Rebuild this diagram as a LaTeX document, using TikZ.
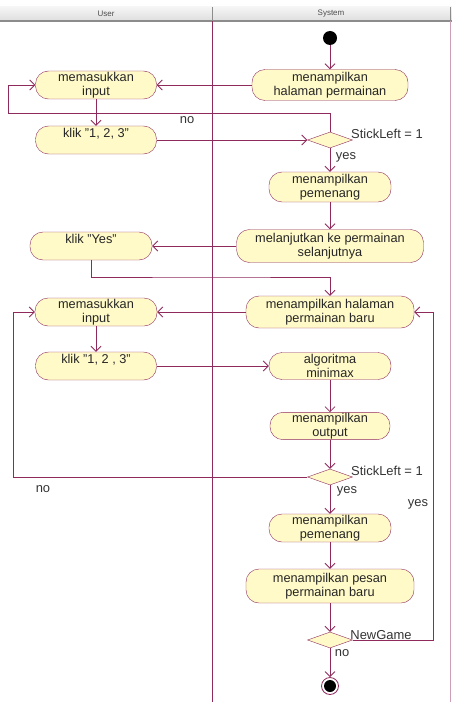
\documentclass[tikz,border=0pt]{standalone}
\usepackage{fontspec}
\setmainfont{Liberation Sans}
\usetikzlibrary{arrows.meta, positioning, shapes.geometric}
\definecolor{flowline}{RGB}{142,42,92}
\definecolor{actfill}{RGB}{255,250,200}

\begin{document}
\begin{tikzpicture}[x=1bp, y=-1bp,
    activity/.style={draw=flowline, fill=actfill, rounded corners=13bp, minimum height=28bp,
        align=center, inner sep=1bp, text=black!85, font=\fontsize{12.8}{13.5}\selectfont},
    decision/.style={draw=flowline, fill=actfill, diamond, aspect=2.8, minimum width=45bp,
        minimum height=16bp, inner sep=0pt},
    flow/.style={draw=flowline, line width=0.8bp, -{Straight Barb[length=5bp,width=10bp]}},
    guard/.style={inner sep=0pt, text=black!80, font=\fontsize{13}{14}\selectfont},
    lanehead/.style={inner sep=0pt, text=black!70, font=\fontsize{8}{9}\selectfont}]
    \useasboundingbox (0,0) rectangle (452,702);

    % swimlanes
    \shade[top color=black!4, bottom color=black!13] (0,7) rectangle (452,21);
    \draw[black!45, line width=1.2bp] (0,21) -- (452,21);
    \draw[flowline, line width=1bp] (212,21) -- (212,702);
    \draw[flowline!45, line width=1bp] (450,21) -- (450,702);
    \draw[black!45] (212,7) -- (212,21);
    \draw[black!45] (450,7) -- (450,21);
    \node[lanehead] (laneUser) at (106,14) {User};
    \node[lanehead] (laneSystem) at (331,14) {System};

    % nodes
    \node[circle, fill=black, minimum size=14bp, inner sep=0pt] (start) at (330,38) {};
    \node[activity, minimum width=156bp, minimum height=31bp] (hp) at (330,85) {menampilkan\\halaman permainan};
    \node[activity, minimum width=121bp] (input1) at (96,85) {memasukkan\\input};
    \node[activity, minimum width=121bp] (klik1) at (96,140) {klik "1, 2, 3"\\\phantom{x}};
    \node[decision] (d1) at (330,140) {};
    \node[activity, minimum width=122bp, minimum height=30bp] (menang1) at (330,187) {menampilkan\\pemenang};
    \node[activity, minimum width=187bp, minimum height=33bp] (lanjut) at (330,246) {melanjutkan ke permainan\\selanjutnya};
    \node[activity, minimum width=122bp] (klikyes) at (91,246) {klik "Yes"\\\phantom{x}};
    \node[activity, minimum width=168bp, minimum height=32bp] (hbaru) at (330,312) {menampilkan halaman\\permainan baru};
    \node[activity, minimum width=122bp] (input2) at (96,312) {memasukkan\\input};
    \node[activity, minimum width=121bp] (klik2) at (96,366) {klik "1, 2 , 3"\\\phantom{x}};
    \node[activity, minimum width=122bp, minimum height=27bp] (minimax) at (330,366) {algoritma\\minimax};
    \node[activity, minimum width=120bp, minimum height=27bp] (output) at (330,426) {menampilkan\\output};
    \node[decision] (d2) at (330,477) {};
    \node[activity, minimum width=122bp] (menang2) at (330,528) {menampilkan\\pemenang};
    \node[activity, minimum width=168bp, minimum height=34bp] (pesan) at (330,586) {menampilkan pesan\\permainan baru};
    \node[decision] (d3) at (330,640) {};
    \node[circle, draw=flowline, line width=0.8bp, fill=white, minimum size=17bp, inner sep=0pt] (stop) at (330,686) {};
    \node[circle, fill=black, minimum size=12bp, inner sep=0pt] (stopdot) at (stop) {};

    % guards
    \node[guard] (g1) at (387,134) {StickLeft = 1};
    \node[guard] (g1no) at (187,120) {no};
    \node[guard] (g1yes) at (346,157) {yes};
    \node[guard] (g2) at (387,471) {StickLeft = 1};
    \node[guard] (g2no) at (43,489) {no};
    \node[guard] (g2yes) at (347,491) {yes};
    \node[guard] (g3) at (381,635) {NewGame};
    \node[guard] (g3yes) at (418,504) {yes};
    \node[guard] (g3no) at (342,653) {no};

    \coordinate (loopA) at (8,113);
    \coordinate (joinYes) at (212,277);
    \coordinate (loopB) at (13,477);
    \coordinate (loopC) at (433,640);

    % flows
    \draw[flow] (start) -- (hp);
    \draw[flow] (hp) -- (input1);
    \draw[flow] (input1) -- (klik1);
    \draw[flow] (klik1) -- (d1);
    \draw[flow] (d1.north) |- (loopA) |- (input1.west);
    \draw[flow] (d1) -- (menang1);
    \draw[flow] (menang1) -- (lanjut);
    \draw[flow] (lanjut) -- (klikyes);
    \draw[flow] (klikyes.south) |- (joinYes) -| (hbaru.north);
    \draw[flow] (hbaru) -- (input2);
    \draw[flow] (input2) -- (klik2);
    \draw[flow] (klik2) -- (minimax);
    \draw[flow] (minimax) -- (output);
    \draw[flow] (output) -- (d2);
    \draw[flow] (d2.west) -- (loopB) |- (input2.west);
    \draw[flow] (d2) -- (menang2);
    \draw[flow] (menang2) -- (pesan);
    \draw[flow] (pesan) -- (d3);
    \draw[flow] (d3.east) -- (loopC) |- (hbaru.east);
    \draw[flow] (d3) -- (stop);
\end{tikzpicture}
\end{document}
